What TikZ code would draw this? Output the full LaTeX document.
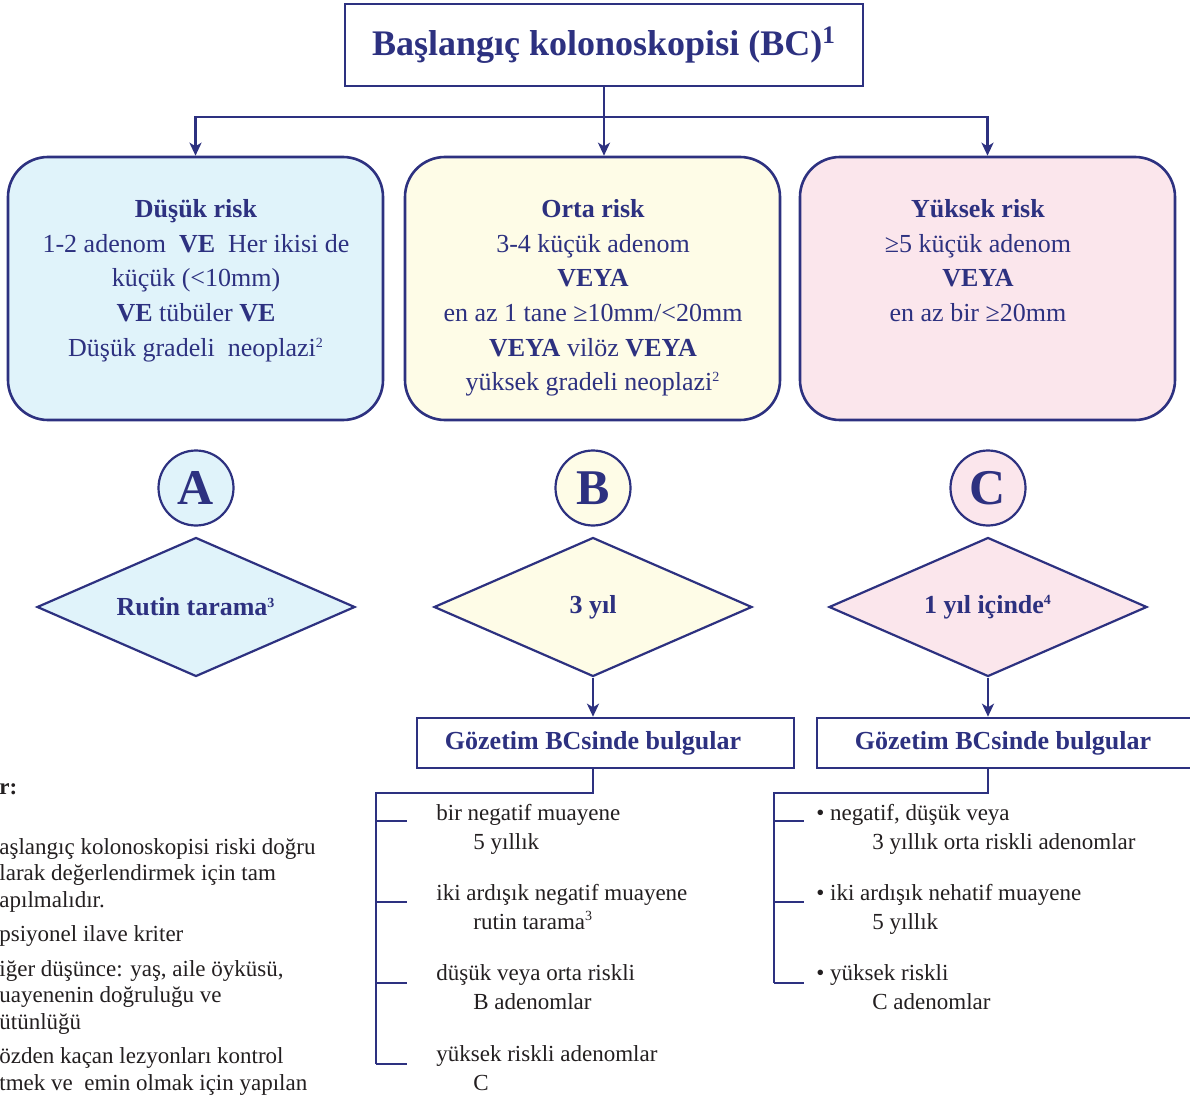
\documentclass[tikz,border=0pt]{standalone}
\usepackage{fontspec}
\setmainfont{Liberation Serif}
\usetikzlibrary{arrows.meta,shapes.geometric}
\definecolor{navy}{RGB}{45,49,128}
\definecolor{lowfill}{RGB}{224,243,250}
\definecolor{midfill}{RGB}{254,252,231}
\definecolor{highfill}{RGB}{251,230,236}
\definecolor{inkgray}{RGB}{35,31,32}
\newcommand{\fnmark}[1]{\textsuperscript{\fontsize{7}{7}\selectfont #1}}

\begin{document}
\begin{tikzpicture}[x=0.5pt,y=-0.5pt,
  flow/.style={draw=navy,line width=1.3pt},
  flowarrow/.style={flow,-{Stealth[length=6.5pt,width=6pt,inset=1.8pt]}},
  topbox/.style={draw=navy,line width=1.3pt,fill=white,minimum width=259pt,minimum height=41pt,
    inner sep=0pt,text=navy,font=\fontsize{18}{22}\selectfont\bfseries},
  riskbox/.style={draw=navy,line width=1.3pt,rounded corners=20pt,minimum width=187.5pt,minimum height=131.5pt},
  risktext/.style={anchor=north,align=center,inner sep=0pt,text=navy,font=\fontsize{13}{17.3}\selectfont},
  lettercircle/.style={circle,draw=navy,line width=1.1pt,minimum size=37.5pt,inner sep=0pt,
    text=navy,font=\fontsize{25}{25}\selectfont\bfseries},
  decision/.style={diamond,aspect=2.28,draw=navy,line width=1.1pt,minimum width=159pt,minimum height=69.5pt,
    inner sep=0pt,text=navy,font=\fontsize{13}{15}\selectfont\bfseries},
  survbox/.style={draw=navy,line width=1.3pt,minimum width=188.5pt,minimum height=25pt,inner sep=0pt},
  survtext/.style={inner sep=0pt,text=navy,font=\fontsize{13}{15}\selectfont\bfseries},
  leaf/.style={anchor=north west,align=left,inner sep=0pt,text=inkgray,font=\fontsize{11.5}{14.5}\selectfont},
  note/.style={anchor=north west,align=left,inner sep=0pt,text=inkgray,font=\fontsize{11.5}{13.25}\selectfont}]
\useasboundingbox (0,0) rectangle (1190,1102);
\clip (0,0) rectangle (1190,1102);
\fill[white] (0,0) rectangle (1190,1102);

\node[topbox] (start) at (604,45) {Başlangıç kolonoskopisi (BC)\textsuperscript{1}};

\node[riskbox,fill=lowfill] (low) at (195.5,288.5) {};
\node[riskbox,fill=midfill] (mid) at (592.5,288.5) {};
\node[riskbox,fill=highfill] (high) at (987.5,288.5) {};
\node[risktext] (lowtxt) at (196,193) {\strut\textbf{Düşük risk}\\1-2 adenom\ \ \textbf{VE}\ \ Her ikisi de\\küçük (<10mm)\\\textbf{VE} tübüler \textbf{VE}\\Düşük gradeli\ \ neoplazi\fnmark{2}};
\node[risktext] (midtxt) at (593,193) {\strut\textbf{Orta risk}\\3-4 küçük adenom\\\textbf{VEYA}\\en az 1 tane ≥10mm/<20mm\\\textbf{VEYA} vilöz \textbf{VEYA}\\yüksek gradeli neoplazi\fnmark{2}};
\node[risktext] (hightxt) at (978,193) {\strut\textbf{Yüksek risk}\\≥5 küçük adenom\\\textbf{VEYA}\\en az bir ≥20mm};

\coordinate (split) at (604,117);
\draw[flow] (start.south) -- (split);
\draw[flowarrow] (split) -- (split |- mid.north);
\draw[flowarrow] (split) -| (low.north);
\draw[flowarrow] (split) -| (high.north);

\node[lettercircle,fill=lowfill] (circA) at (196,488) {A};
\node[lettercircle,fill=midfill] (circB) at (593,488) {B};
\node[lettercircle,fill=highfill] (circC) at (988,488) {C};

\node[decision,fill=lowfill] (decA) at (196,607) {Rutin tarama\fnmark{3}};
\node[decision,fill=midfill] (decB) at (593,607) {3 yıl};
\node[decision,fill=highfill] (decC) at (988,607) {1 yıl içinde\fnmark{4}};

\node[survbox] (survB) at (605.5,743) {};
\node[survbox] (survC) at (1005.5,743) {};
\node[survtext] (survBtxt) at (593,743) {Gözetim BCsinde bulgular};
\node[survtext] (survCtxt) at (1003,743) {Gözetim BCsinde bulgular};
\draw[flowarrow] (decB.south) -- (decB.south |- survB.north);
\draw[flowarrow] (decC.south) -- (decC.south |- survC.north);

\coordinate (trunkB) at (376,793);
\coordinate (trunkC) at (774,793);
\draw[flow] (decB.south |- survB.south) |- (trunkB) -- (376,1064);
\draw[flow] (decC.south |- survC.south) |- (trunkC) -- (774,983);
\foreach \y in {821,902,983,1064}
  \draw[flow] (376,\y) -- (407,\y);
\foreach \y in {821,902,983}
  \draw[flow] (774,\y) -- (804,\y);

\node[leaf] (b1) at (436,800) {\strut bir negatif muayene\\\hspace*{18.5pt}5 yıllık};
\node[leaf] (b2) at (436,880) {\strut iki ardışık negatif muayene\\\hspace*{18.5pt}rutin tarama\fnmark{3}};
\node[leaf] (b3) at (436,960) {\strut düşük veya orta riskli\\\hspace*{18.5pt}B adenomlar};
\node[leaf] (b4) at (436,1041) {\strut yüksek riskli adenomlar\\\hspace*{18.5pt}C};

\node[leaf] (c1) at (816,800) {\strut •\ negatif, düşük veya\\\hspace*{28pt}3 yıllık orta riskli adenomlar};
\node[leaf] (c2) at (816,880) {\strut •\ iki ardışık nehatif muayene\\\hspace*{28pt}5 yıllık};
\node[leaf] (c3) at (816,960) {\strut •\ yüksek riskli\\\hspace*{28pt}C adenomlar};

\node[note,font=\fontsize{11.5}{13.25}\selectfont\bfseries] (notehead) at (-1,783) {r:};
\node[note] (notes) at (-1,835.5) {\strut aşlangıç kolonoskopisi riski doğru\\larak değerlendirmek için tam\\apılmalıdır.\\[4pt]psiyonel ilave kriter\\[4pt]iğer düşünce: yaş, aile öyküsü,\\uayenenin doğruluğu ve\\ütünlüğü\\[4pt]özden kaçan lezyonları kontrol\\tmek ve\ \ emin olmak için yapılan};
\end{tikzpicture}
\end{document}
